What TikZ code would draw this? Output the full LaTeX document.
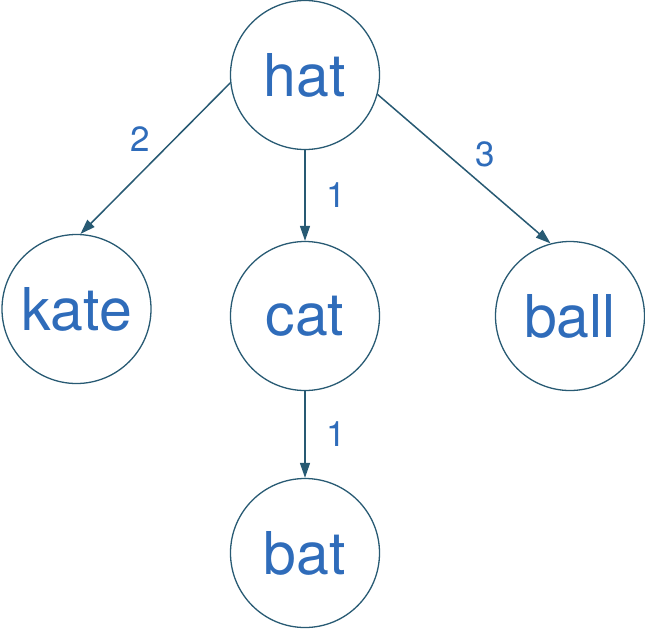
\documentclass[tikz,border=0pt]{standalone}
\usepackage{fontspec}
\setmainfont{TeX Gyre Heros}
\usetikzlibrary{arrows.meta, positioning}
\definecolor{ring}{RGB}{40,90,115}
\definecolor{word}{RGB}{47,108,186}

\begin{document}
\begin{tikzpicture}[
            x=1pt, y=-1pt,
            vertex/.style = {circle, draw=ring, line width=1.3pt, minimum size=149pt, inner sep=0pt,
                             text=word, font=\fontsize{59}{60}\selectfont},
            arrow/.style = {-{Triangle[width=10pt, length=15pt]}, draw=ring, fill=ring, line width=1.5pt},
            weight/.style = {text=word, font=\fontsize{35}{36}\selectfont, fill=none}]
            \useasboundingbox (0,0) rectangle (645,630);
            % nodes
            \node[vertex] (hat)  at (305,75)  {hat};
            \node[vertex] (kate) at (76.5,309) {kate};
            \node[vertex] (cat)  at (305,316) {cat};
            \node[vertex] (ball) at (570,316) {ball};
            \node[vertex] (bat)  at (305,553) {bat};
            % Connections
            \draw [arrow] (hat.186) -- node[weight, above left=3pt and 1pt] (w2) {2} (kate.87);
            \draw [arrow] (hat.south) -- node[weight, right=17pt] (w1) {1} (cat.north);
            \draw [arrow] (hat.-15) -- node[weight, above right=-2pt and 7pt] (w3) {3} (ball.105);
            \draw [arrow] (cat.south) -- node[weight, right=17pt] (w4) {1} (bat.north);
\end{tikzpicture}
\end{document}
